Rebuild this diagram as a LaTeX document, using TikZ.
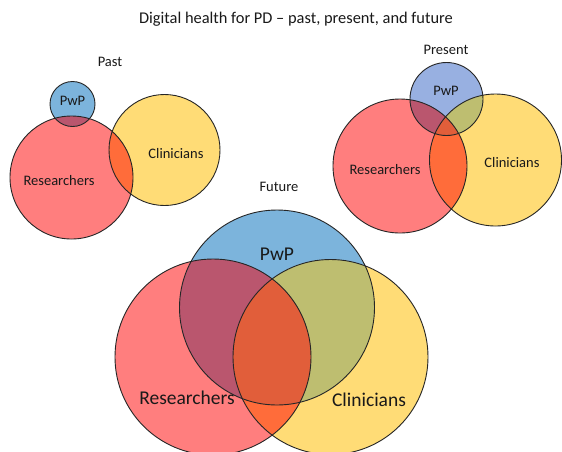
\documentclass[tikz,border=0pt]{standalone}
\usepackage{fontspec}
\setmainfont{Carlito}
\definecolor{cR}{RGB}{255,126,126}
\definecolor{cY}{RGB}{255,220,118}
\definecolor{cB}{RGB}{124,180,220}
\definecolor{cBp}{RGB}{152,176,225}
\definecolor{cRY}{RGB}{255,108,58}
\definecolor{cRB}{RGB}{186,86,110}
\definecolor{cYB}{RGB}{190,190,112}
\definecolor{cRYB}{RGB}{225,94,58}
\definecolor{txt}{RGB}{25,25,25}
\tikzset{
  outl/.style={draw=black!85, line width=0.9pt},
  lbl/.style={text=txt, font=\fontsize{14.5}{16}\selectfont, inner sep=0pt, anchor=center},
  titlelbl/.style={text=txt, font=\fontsize{16.4}{18}\selectfont, inner sep=0pt, anchor=center},
  biglbl/.style={text=txt, font=\fontsize{19.5}{21}\selectfont, inner sep=0pt, anchor=center},
}
\newcommand{\myvenn}[9]{%
  \fill[cR] (#1,#2) circle (#3pt);
  \fill[cY] (#4,#5) circle (#6pt);
  \fill[bluefill] (#7,#8) circle (#9pt);
  \begin{scope}
    \clip (#1,#2) circle (#3pt);
    \fill[cRY] (#4,#5) circle (#6pt);
  \end{scope}
  \begin{scope}
    \clip (#4,#5) circle (#6pt);
    \fill[cYB] (#7,#8) circle (#9pt);
  \end{scope}
  \begin{scope}
    \clip (#1,#2) circle (#3pt);
    \fill[cRB] (#7,#8) circle (#9pt);
  \end{scope}
  \begin{scope}
    \clip (#4,#5) circle (#6pt);
    \clip (#1,#2) circle (#3pt);
    \fill[cRYB] (#7,#8) circle (#9pt);
  \end{scope}
  \draw[outl] (#1,#2) circle (#3pt);
  \draw[outl] (#4,#5) circle (#6pt);
  \draw[outl] (#7,#8) circle (#9pt);
}
\begin{document}
\begin{tikzpicture}[x=1pt,y=-1pt]
\useasboundingbox (0,0) rectangle (562,451);
\fill[white] (0,0) rectangle (562,451);
% title
\node[titlelbl] (title) at (296,19) {Digital health for PD -- past, present, and future};
% Past
\colorlet{bluefill}{cB}
\myvenn{71.5}{177.5}{61.5}{164.5}{150}{55.5}{72.5}{104}{22.5}
\node[lbl] (pastT) at (110,62) {Past};
\node[lbl] (pastB) at (72.5,101) {PwP};
\node[lbl] (pastR) at (59,181) {Researchers};
\node[lbl] (pastC) at (176,154) {Clinicians};
% Present
\colorlet{bluefill}{cBp}
\myvenn{400}{166}{67}{495.5}{160}{66}{446.5}{99}{36.5}
\node[lbl] (presT) at (446,50) {Present};
\node[lbl] (presB) at (446,91) {PwP};
\node[lbl] (presR) at (385,170) {Researchers};
\node[lbl] (presC) at (512,163) {Clinicians};
% Future
\colorlet{bluefill}{cB}
\myvenn{213}{357}{98}{330.5}{357}{97.5}{277}{307.5}{97.5}
\node[lbl] (futT) at (279,187) {Future};
\node[biglbl] (futB) at (277,254) {PwP};
\node[biglbl] (futR) at (187,398) {Researchers};
\node[biglbl] (futC) at (369,400) {Clinicians};
\end{tikzpicture}
\end{document}
